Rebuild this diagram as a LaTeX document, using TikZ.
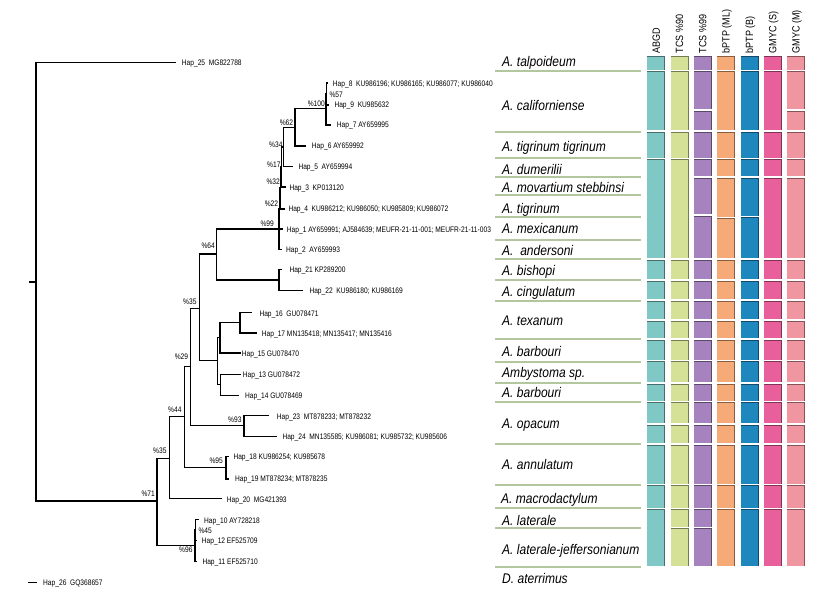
\documentclass[tikz,border=0pt]{standalone}
\usepackage{fontspec}
\setmainfont{Liberation Sans}
\newfontfamily\narrowf[FakeStretch=0.86]{Liberation Sans}
\newfontfamily\hapf[FakeStretch=0.83]{Liberation Sans}
\definecolor{cAB}{HTML}{80C8C6}
\definecolor{cTa}{HTML}{D4E196}
\definecolor{cTb}{HTML}{A682BE}
\definecolor{cML}{HTML}{F5AA78}
\definecolor{cBB}{HTML}{1E87BE}
\definecolor{cGS}{HTML}{E85F9B}
\definecolor{cGM}{HTML}{F096A0}
\definecolor{sepc}{HTML}{B3C79E}
\tikzset{
  br/.style={line width=1.4pt, line cap=rect, line join=miter},
  hap/.style={font=\hapf\fontsize{8}{9}\selectfont, inner sep=0pt, anchor=west, text height=5.7pt, text depth=0pt},
  pct/.style={font=\hapf\fontsize{8}{9}\selectfont, inner sep=0pt, anchor=east, text height=5.7pt, text depth=0pt},
  sp/.style={font=\narrowf\itshape\fontsize{14}{16}\selectfont, inner sep=0pt, anchor=west, text height=10pt, text depth=0pt},
  hdr/.style={font=\narrowf\fontsize{10.5}{12}\selectfont, rotate=90, anchor=base west, inner sep=0pt},
  sepl/.style={sepc, line width=1.8pt},
}
\newcommand\barcol[3]{%
  \foreach \b [remember=\b as \a (initially -1)] in {#3} {%
    \ifdim\a pt>0pt
      \fill[#2] (#1,\a+0.9) rectangle (#1+17.4,\b-0.9);
      \draw[#2!55!black, line width=0.6pt] (#1,\a+0.9) -- (#1+17.4,\a+0.9) -- (#1+17.4,\b-0.9);
    \fi
  }%
}
\begin{document}
\begin{tikzpicture}[x=1pt,y=-1pt]
\useasboundingbox (0,0) rectangle (825,600);
% ---------- tree coordinates ----------
\coordinate (stub) at (30,281.8);
\coordinate (root) at (36,281.8);
\coordinate (t25) at (175,62.7);
\coordinate (n71) at (157,501);
\coordinate (n35b) at (169.3,458.3);
\coordinate (n96) at (195,545.7);
\coordinate (n44) at (184.3,416.7);
\coordinate (t20) at (221,498.5);
\coordinate (n29) at (190.7,366.7);
\coordinate (n95) at (226,467.7);
\coordinate (t18) at (228.3,456.7);
\coordinate (t19) at (228.3,479);
\coordinate (n35a) at (199.3,308.3);
\coordinate (n93) at (244,425.7);
\coordinate (t23) at (268.3,415.5);
\coordinate (t24) at (276.7,436.3);
\coordinate (n64) at (216.7,254);
\coordinate (nA) at (217.3,360.7);
\coordinate (nB) at (220,337.7);
\coordinate (nC) at (220.7,384.5);
\coordinate (nD) at (240,322.7);
\coordinate (t15) at (240,353);
\coordinate (t16) at (251.7,312.5);
\coordinate (t17) at (256,333);
\coordinate (t13) at (240,374.5);
\coordinate (t14) at (238.3,395.3);
\coordinate (n99) at (279,229);
\coordinate (n21) at (279,280);
\coordinate (t21) at (281.7,269.5);
\coordinate (t22) at (302.7,290.7);
\coordinate (n22) at (279.5,208.5);
\coordinate (t2) at (281,249.5);
\coordinate (n32) at (280.5,188);
\coordinate (t1) at (282.5,229);
\coordinate (n17) at (281.7,167);
\coordinate (t4) at (284,209);
\coordinate (n34) at (283.3,147);
\coordinate (t3) at (285,187);
\coordinate (n62) at (295,127.3);
\coordinate (t5) at (292.3,166.7);
\coordinate (n100) at (326,108.3);
\coordinate (t6) at (305,146);
\coordinate (n57) at (326.5,94);
\coordinate (t7) at (330,125);
\coordinate (t8) at (327,83);
\coordinate (t9) at (328,105);
\coordinate (n45) at (195.5,530);
\coordinate (t11) at (196.5,561.5);
\coordinate (t10) at (198.3,519.5);
\coordinate (t12) at (196.5,540.7);
\coordinate (h26a) at (29,582.7);
\coordinate (h26b) at (36,582.7);
% ---------- branches ----------
\draw[br] (stub) -- (root);
\draw[br] (root) |- (t25);
\draw[br] (root) |- (n71);
\draw[br] (n71) |- (n35b);
\draw[br] (n71) |- (n96);
\draw[br] (n35b) |- (n44);
\draw[br] (n35b) |- (t20);
\draw[br] (n44) |- (n29);
\draw[br] (n44) |- (n95);
\draw[br] (n95) |- (t18);
\draw[br] (n95) |- (t19);
\draw[br] (n29) |- (n35a);
\draw[br] (n29) |- (n93);
\draw[br] (n93) |- (t23);
\draw[br] (n93) |- (t24);
\draw[br] (n35a) |- (n64);
\draw[br] (n35a) |- (nA);
\draw[br] (nA) |- (nB);
\draw[br] (nA) |- (nC);
\draw[br] (nB) |- (nD);
\draw[br] (nB) |- (t15);
\draw[br] (nD) |- (t16);
\draw[br] (nD) |- (t17);
\draw[br] (nC) |- (t13);
\draw[br] (nC) |- (t14);
\draw[br] (n64) |- (n99);
\draw[br] (n64) |- (n21);
\draw[br] (n21) |- (t21);
\draw[br] (n21) |- (t22);
\draw[br] (n99) |- (n22);
\draw[br] (n99) |- (t2);
\draw[br] (n22) |- (n32);
\draw[br] (n22) |- (t1);
\draw[br] (n32) |- (n17);
\draw[br] (n32) |- (t4);
\draw[br] (n17) |- (n34);
\draw[br] (n17) |- (t3);
\draw[br] (n34) |- (n62);
\draw[br] (n34) |- (t5);
\draw[br] (n62) |- (n100);
\draw[br] (n62) |- (t6);
\draw[br] (n100) |- (n57);
\draw[br] (n100) |- (t7);
\draw[br] (n57) |- (t8);
\draw[br] (n57) |- (t9);
\draw[br] (n96) |- (n45);
\draw[br] (n96) |- (t11);
\draw[br] (n45) |- (t10);
\draw[br] (n45) |- (t12);
\draw[br] (h26a) -- (h26b);
% ---------- tip labels ----------
\node[hap] (l25) at (181.7,62.7) {Hap\_25~ MG822788};
\node[hap] (l8) at (332.7,83.3) {Hap\_8~ KU986196; KU986165; KU986077; KU986040};
\node[hap] (l9) at (334.3,105) {Hap\_9~ KU985632};
\node[hap] (l7) at (336.7,125) {Hap\_7 AY659995};
\node[hap] (l6) at (311.7,146) {Hap\_6 AY659992};
\node[hap] (l5) at (298.3,166.7) {Hap\_5~ AY659994};
\node[hap] (l3) at (289.3,187.3) {Hap\_3~ KP013120};
\node[hap] (l4) at (288.3,209) {Hap\_4~ KU986212; KU986050; KU985809; KU986072};
\node[hap] (l1) at (286.7,229.3) {Hap\_1 AY659991; AJ584639; MEUFR-21-11-001; MEUFR-21-11-003};
\node[hap] (l2) at (286,250) {Hap\_2~ AY659993};
\node[hap] (l21) at (289.3,270) {Hap\_21 KP289200};
\node[hap] (l22) at (309.3,290.7) {Hap\_22~ KU986180; KU986169};
\node[hap] (l16) at (259.3,313.3) {Hap\_16~ GU078471};
\node[hap] (l17) at (261.7,333.3) {Hap\_17 MN135418; MN135417; MN135416};
\node[hap] (l15) at (241.7,354) {Hap\_15 GU078470};
\node[hap] (l13) at (242.7,375) {Hap\_13 GU078472};
\node[hap] (l14) at (245,395.7) {Hap\_14 GU078469};
\node[hap] (l23) at (276.7,416.7) {Hap\_23~ MT878233; MT878232};
\node[hap] (l24) at (282.3,436.7) {Hap\_24~ MN135585; KU986081; KU985732; KU985606};
\node[hap] (l18) at (233.3,457) {Hap\_18 KU986254; KU985678};
\node[hap] (l19) at (235,479) {Hap\_19 MT878234; MT878235};
\node[hap] (l20) at (226.7,499.5) {Hap\_20~ MG421393};
\node[hap] (l10) at (204,520.3) {Hap\_10 AY728218};
\node[hap] (l12) at (201.7,540.7) {Hap\_12 EF525709};
\node[hap] (l11) at (202.3,561.3) {Hap\_11 EF525710};
\node[hap] (l26) at (43,582.7) {Hap\_26~ GQ368657};
% ---------- support values ----------
\node[hap] (p57) at (329.3,95) {\%57};
\node[pct] (p100) at (325,103.3) {\%100};
\node[pct] (p62) at (293.3,122.7) {\%62};
\node[pct] (p34) at (282.7,144.3) {\%34};
\node[pct] (p17) at (280.7,165) {\%17};
\node[pct] (p32) at (280,181.7) {\%32};
\node[pct] (p22) at (278.3,203.3) {\%22};
\node[pct] (p99) at (274,223.3) {\%99};
\node[pct] (p64) at (215,246) {\%64};
\node[pct] (p35a) at (196.7,301.7) {\%35};
\node[pct] (p29) at (188.3,356.7) {\%29};
\node[pct] (p93) at (241.7,420) {\%93};
\node[pct] (p44) at (181.7,410) {\%44};
\node[pct] (p95) at (223,461) {\%95};
\node[pct] (p35b) at (166.7,451) {\%35};
\node[pct] (p71) at (155,493.3) {\%71};
\node[hap] (p45) at (198.3,530.7) {\%45};
\node[pct] (p96) at (192.7,550) {\%96};
% ---------- separators ----------
\foreach \y in {70.7,131.7,158,177,195,216.7,240,259,280,300.7,339,361.7,383,401.7,444,485,508,527.7,567}
  \draw[sepl] (495,\y) -- (641,\y);
% ---------- species ----------
\node[sp] (s1) at (502,61.7) {A. talpoideum};
\node[sp] (s2) at (502,105) {A. californiense};
\node[sp] (s3) at (502,146) {A. tigrinum tigrinum};
\node[sp] (s4) at (502,169.3) {A. dumerilii};
\node[sp] (s5) at (502,187.7) {A. movartium stebbinsi};
\node[sp] (s6) at (502,208.3) {A. tigrinum};
\node[sp] (s7) at (502,228.3) {A. mexicanum};
\node[sp] (s8) at (502,250.7) {A.~ andersoni};
\node[sp] (s9) at (502,270.7) {A. bishopi};
\node[sp] (s10) at (502,291) {A. cingulatum};
\node[sp] (s11) at (502,320) {A. texanum};
\node[sp] (s12) at (502,351.7) {A. barbouri};
\node[sp] (s13) at (502,372.7) {Ambystoma sp.};
\node[sp] (s14) at (502,392.3) {A. barbouri};
\node[sp] (s15) at (502,423.3) {A. opacum};
\node[sp] (s16) at (502,464) {A. annulatum};
\node[sp] (s17) at (501,498.3) {A. macrodactylum};
\node[sp] (s18) at (502,520) {A. laterale};
\node[sp] (s19) at (502,549.3) {A. laterale-jeffersonianum};
\node[sp] (s20) at (502,578.3) {D. aterrimus};
% ---------- headers ----------
\node[hdr] (hd1) at (659.8,53.5) {ABGD};
\node[hdr] (hd2) at (683.1,53.5) {TCS \%90};
\node[hdr] (hd3) at (706.4,53.5) {TCS \%99};
\node[hdr] (hd4) at (729.7,53.5) {bPTP (ML)};
\node[hdr] (hd5) at (753.0,53.5) {bPTP (B)};
\node[hdr] (hd6) at (776.3,53.5) {GMYC (S)};
\node[hdr] (hd7) at (799.6,53.5) {GMYC (M)};
% ---------- bars ----------
\barcol{647.3}{cAB}{55,70.7,131,158.7,259,280,300,320,339,360.7,383,401.7,424,444,484.5,508.5,567}
\barcol{670.6}{cTa}{55,70.7,131,158.7,259,280,300,320,339,360.7,383,401.7,424,444,484.5,508.5,527.7,567}
\barcol{693.9}{cTb}{55,70.7,110,131,158.7,177,215,259,280,300,320,339,360.7,383,401.7,424,444,484.5,508.5,527.7,567}
\barcol{717.2}{cML}{55,70.7,131,158.7,177,217.5,259,280,300,320,339,360.7,383,401.7,424,444,484.5,508.5,567}
\barcol{740.5}{cBB}{55,70.7,131,158.7,177,216.7,259,280,300,320,339,360.7,383,401.7,424,444,484.5,508.5,567}
\barcol{763.8}{cGS}{55,70.7,131,158.7,177,259,280,300,320,339,360.7,383,401.7,424,444,484.5,508.5,567}
\barcol{787.1}{cGM}{55,70.7,110,131,158.7,177,259,280,300,320,339,360.7,383,401.7,424,444,484.5,508.5,567}
\end{tikzpicture}
\end{document}
